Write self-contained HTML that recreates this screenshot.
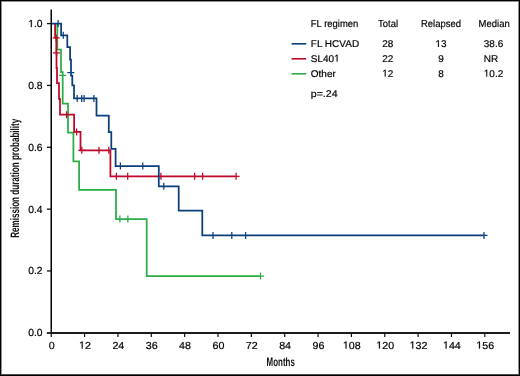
<!DOCTYPE html>
<html><head><meta charset="utf-8"><style>
html,body{margin:0;padding:0;background:#fff;}
#w{position:relative;width:520px;height:376px;overflow:hidden;}
svg{position:absolute;left:0;top:0;will-change:transform;}
text{text-rendering:geometricPrecision;}
.tk{font-family:"Liberation Sans",sans-serif;font-size:10.3px;fill:#000;stroke:#000;stroke-width:0.2px;}
.tk.tx{font-size:10.2px;}
.h1{fill:none;stroke:none;}
.lg.hd{font-size:10.2px;}
.lg{font-family:"Liberation Sans",sans-serif;font-size:9.8px;fill:#000;stroke:#000;stroke-width:0.18px;}
.ttl{font-family:"Liberation Sans",sans-serif;font-size:12.2px;font-weight:bold;fill:#111;}
#bd{position:absolute;left:0;top:0;width:520px;height:376px;box-sizing:border-box;border:1px solid #000;}
#bd2{position:absolute;left:1px;top:1px;width:518px;height:374px;box-sizing:border-box;border:1px solid rgba(0,0,0,0.45);border-bottom-color:rgba(0,0,0,0.7);}
</style></head><body><div id="w">
<svg width="520" height="376" viewBox="0 0 520 376">
<rect x="0" y="0" width="520" height="376" fill="#fff"/>
<path d="M57.3,23.6 V49.7 H61 V72.1 H62.7 V103.6 H68 V132.6 H73.4 V161.3 H79.1 V189.9 H116 V219 H146.7 V276.1 H260.5" fill="none" stroke="#2aad45" stroke-width="1.75" stroke-linejoin="miter" stroke-linecap="butt"/>
<path d="M59.20,75.4 H66.20 M119.9,215.50 V222.50 M127.9,215.50 V222.50 M260.5,272.60 V279.60 M260.5,276.1 H264.00" fill="none" stroke="#2aad45" stroke-width="1.25" stroke-linecap="butt"/>

<path d="M55.1,23.6 V37.7 H56.3 V52.6 H56.5 V68.2 H57 V83.2 H59 V98.8 H60 V114.7 H74.1 V131.9 H80.5 V150.3 H110.4 V176.35 H236.1" fill="none" stroke="#c0072a" stroke-width="1.75" stroke-linejoin="miter" stroke-linecap="butt"/>
<path d="M56.2,34.40 V41.40 M52.70,37.9 H59.70 M56.5,49.40 V56.40 M53.00,52.9 H60.00 M66.6,111.20 V118.20 M76.6,128.40 V135.40 M81.8,146.80 V153.80 M78.30,150.3 H85.30 M99,146.80 V153.80 M108.8,146.80 V153.80 M116.4,172.85 V179.85 M127.7,172.85 V179.85 M160.9,172.85 V179.85 M194.6,172.85 V179.85 M202.6,172.85 V179.85 M236.1,172.85 V179.85 M236.1,176.35 H239.60" fill="none" stroke="#c0072a" stroke-width="1.25" stroke-linecap="butt"/>

<path d="M51.25,23.6 H61.1 V35.3 H67.3 V47.1 H70.1 V59.7 H71 V75.7 H72.3 V85.4 H74 V98.4 H96.5 V115.6 H108.8 V132.1 H111.3 V148.9 H115.6 V166 H158.8 V186.3 H178.7 V210.5 H202.3 V235.4 H484" fill="none" stroke="#0b3f7c" stroke-width="1.75" stroke-linejoin="miter" stroke-linecap="butt"/>
<path d="M58.1,20.10 V27.10 M63.3,31.80 V38.80 M67.30,72.6 H74.30 M77.2,94.90 V101.90 M81.7,94.90 V101.90 M84.1,94.90 V101.90 M93.9,94.90 V101.90 M120.4,162.50 V169.50 M142.8,162.50 V169.50 M163.8,182.80 V189.80 M213,231.90 V238.90 M231.8,231.90 V238.90 M245.6,231.90 V238.90 M484,231.90 V238.90 M484,235.4 H487.50" fill="none" stroke="#0b3f7c" stroke-width="1.25" stroke-linecap="butt"/>

<line x1="51.25" y1="9.5" x2="51.25" y2="333.8" stroke="#000" stroke-width="1.5"/>
<line x1="50.5" y1="333.0" x2="510" y2="333.0" stroke="#1c1c1c" stroke-width="1.8"/>
<line x1="46.9" y1="23.60" x2="51.25" y2="23.60" stroke="#111" stroke-width="1.3"/>
<g transform="translate(42.60,27.10) scale(1.0,1)"><text id="t1" text-anchor="end" class="tk"><tspan class="h1">1</tspan>.0</text><path d="M-11.738,0.000 L-11.738,-6.221 L-13.337,-5.080 L-13.337,-5.935 L-11.663,-7.086 L-10.828,-7.086 L-10.828,0.000 Z" class="tk p1"/></g>
<line x1="46.9" y1="85.44" x2="51.25" y2="85.44" stroke="#111" stroke-width="1.3"/>
<g transform="translate(42.60,88.94) scale(1.0,1)"><text id="t2" text-anchor="end" class="tk">0.8</text></g>
<line x1="46.9" y1="147.28" x2="51.25" y2="147.28" stroke="#111" stroke-width="1.3"/>
<g transform="translate(42.60,150.78) scale(1.0,1)"><text id="t3" text-anchor="end" class="tk">0.6</text></g>
<line x1="46.9" y1="209.12" x2="51.25" y2="209.12" stroke="#111" stroke-width="1.3"/>
<g transform="translate(42.60,212.62) scale(1.0,1)"><text id="t4" text-anchor="end" class="tk">0.4</text></g>
<line x1="46.9" y1="270.96" x2="51.25" y2="270.96" stroke="#111" stroke-width="1.3"/>
<g transform="translate(42.60,274.46) scale(1.0,1)"><text id="t5" text-anchor="end" class="tk">0.2</text></g>
<line x1="46.8" y1="333.0" x2="51.25" y2="333.0" stroke="#1c1c1c" stroke-width="1.8"/>
<g transform="translate(42.60,336.30) scale(1.0,1)"><text id="t6" text-anchor="end" class="tk">0.0</text></g>
<line x1="51.25" y1="333" x2="51.25" y2="337" stroke="#111" stroke-width="1.2"/>
<g transform="translate(51.65,348.60) scale(1.05,1)"><text id="t7" text-anchor="middle" class="tk tx">0</text></g>
<line x1="84.60" y1="333" x2="84.60" y2="337" stroke="#111" stroke-width="1.2"/>
<g transform="translate(85.00,348.60) scale(1.05,1)"><text id="t8" text-anchor="middle" class="tk tx"><tspan class="h1">1</tspan>2</text><path d="M-3.107,0.000 L-3.107,-6.161 L-4.691,-5.030 L-4.691,-5.877 L-3.032,-7.017 L-2.205,-7.017 L-2.205,0.000 Z" class="tk tx p1"/></g>
<line x1="117.95" y1="333" x2="117.95" y2="337" stroke="#111" stroke-width="1.2"/>
<g transform="translate(118.35,348.60) scale(1.05,1)"><text id="t9" text-anchor="middle" class="tk tx">24</text></g>
<line x1="151.30" y1="333" x2="151.30" y2="337" stroke="#111" stroke-width="1.2"/>
<g transform="translate(151.70,348.60) scale(1.05,1)"><text id="t10" text-anchor="middle" class="tk tx">36</text></g>
<line x1="184.65" y1="333" x2="184.65" y2="337" stroke="#111" stroke-width="1.2"/>
<g transform="translate(185.05,348.60) scale(1.05,1)"><text id="t11" text-anchor="middle" class="tk tx">48</text></g>
<line x1="218.00" y1="333" x2="218.00" y2="337" stroke="#111" stroke-width="1.2"/>
<g transform="translate(218.40,348.60) scale(1.05,1)"><text id="t12" text-anchor="middle" class="tk tx">60</text></g>
<line x1="251.35" y1="333" x2="251.35" y2="337" stroke="#111" stroke-width="1.2"/>
<g transform="translate(251.75,348.60) scale(1.05,1)"><text id="t13" text-anchor="middle" class="tk tx">72</text></g>
<line x1="284.70" y1="333" x2="284.70" y2="337" stroke="#111" stroke-width="1.2"/>
<g transform="translate(285.10,348.60) scale(1.05,1)"><text id="t14" text-anchor="middle" class="tk tx">84</text></g>
<line x1="318.05" y1="333" x2="318.05" y2="337" stroke="#111" stroke-width="1.2"/>
<g transform="translate(318.45,348.60) scale(1.05,1)"><text id="t15" text-anchor="middle" class="tk tx">96</text></g>
<line x1="351.40" y1="333" x2="351.40" y2="337" stroke="#111" stroke-width="1.2"/>
<g transform="translate(351.80,348.60) scale(1.05,1)"><text id="t16" text-anchor="middle" class="tk tx"><tspan class="h1">1</tspan>08</text><path d="M-5.943,0.000 L-5.943,-6.161 L-7.527,-5.030 L-7.527,-5.877 L-5.868,-7.017 L-5.041,-7.017 L-5.041,0.000 Z" class="tk tx p1"/></g>
<line x1="384.75" y1="333" x2="384.75" y2="337" stroke="#111" stroke-width="1.2"/>
<g transform="translate(385.15,348.60) scale(1.05,1)"><text id="t17" text-anchor="middle" class="tk tx"><tspan class="h1">1</tspan>20</text><path d="M-5.943,0.000 L-5.943,-6.161 L-7.527,-5.030 L-7.527,-5.877 L-5.868,-7.017 L-5.041,-7.017 L-5.041,0.000 Z" class="tk tx p1"/></g>
<line x1="418.10" y1="333" x2="418.10" y2="337" stroke="#111" stroke-width="1.2"/>
<g transform="translate(418.50,348.60) scale(1.05,1)"><text id="t18" text-anchor="middle" class="tk tx"><tspan class="h1">1</tspan>32</text><path d="M-5.943,0.000 L-5.943,-6.161 L-7.527,-5.030 L-7.527,-5.877 L-5.868,-7.017 L-5.041,-7.017 L-5.041,0.000 Z" class="tk tx p1"/></g>
<line x1="451.45" y1="333" x2="451.45" y2="337" stroke="#111" stroke-width="1.2"/>
<g transform="translate(451.85,348.60) scale(1.05,1)"><text id="t19" text-anchor="middle" class="tk tx"><tspan class="h1">1</tspan>44</text><path d="M-5.943,0.000 L-5.943,-6.161 L-7.527,-5.030 L-7.527,-5.877 L-5.868,-7.017 L-5.041,-7.017 L-5.041,0.000 Z" class="tk tx p1"/></g>
<line x1="484.80" y1="333" x2="484.80" y2="337" stroke="#111" stroke-width="1.2"/>
<g transform="translate(485.20,348.60) scale(1.05,1)"><text id="t20" text-anchor="middle" class="tk tx"><tspan class="h1">1</tspan>56</text><path d="M-5.943,0.000 L-5.943,-6.161 L-7.527,-5.030 L-7.527,-5.877 L-5.868,-7.017 L-5.041,-7.017 L-5.041,0.000 Z" class="tk tx p1"/></g>
<g transform="translate(310.80,26.60) scale(0.93,1)"><text id="t21" class="lg hd">FL regimen</text></g>
<g transform="translate(378.00,26.60) scale(0.93,1)"><text id="t22" class="lg hd">Total</text></g>
<g transform="translate(421.00,26.60) scale(0.93,1)"><text id="t23" class="lg hd">Relapsed</text></g>
<g transform="translate(478.60,26.60) scale(0.93,1)"><text id="t24" class="lg hd">Median</text></g>
<line x1="291.6" y1="43.8" x2="306.2" y2="43.8" stroke="#0b3f7c" stroke-width="1.6"/>
<g transform="translate(310.80,47.00) scale(1.02,1)"><text id="t25" class="lg">FL HCVAD</text></g>
<g transform="translate(387.80,47.00) scale(1.02,1)"><text id="t26" text-anchor="middle" class="lg">28</text></g>
<g transform="translate(441.00,47.00) scale(1.02,1)"><text id="t27" text-anchor="middle" class="lg"><tspan class="h1">1</tspan>3</text><path d="M-2.989,0.000 L-2.989,-5.919 L-4.510,-4.833 L-4.510,-5.646 L-2.917,-6.742 L-2.123,-6.742 L-2.123,0.000 Z" class="lg p1"/></g>
<g transform="translate(483.80,47.00) scale(1.02,1)"><text id="t28" class="lg">38.6</text></g>
<line x1="291.6" y1="58.8" x2="306.2" y2="58.8" stroke="#c0072a" stroke-width="1.6"/>
<g transform="translate(310.80,61.55) scale(1.02,1)"><text id="t29" class="lg">SL40<tspan class="h1">1</tspan></text><path d="M25.355,0.000 L25.355,-5.919 L23.833,-4.833 L23.833,-5.646 L25.427,-6.742 L26.221,-6.742 L26.221,0.000 Z" class="lg p1"/></g>
<g transform="translate(387.80,61.55) scale(1.02,1)"><text id="t30" text-anchor="middle" class="lg">22</text></g>
<g transform="translate(441.00,61.55) scale(1.02,1)"><text id="t31" text-anchor="middle" class="lg">9</text></g>
<g transform="translate(483.80,61.55) scale(1.02,1)"><text id="t32" class="lg">NR</text></g>
<line x1="291.6" y1="73.8" x2="306.2" y2="73.8" stroke="#2aad45" stroke-width="1.6"/>
<g transform="translate(310.80,76.60) scale(1.02,1)"><text id="t33" class="lg">Other</text></g>
<g transform="translate(387.80,76.60) scale(1.02,1)"><text id="t34" text-anchor="middle" class="lg"><tspan class="h1">1</tspan>2</text><path d="M-2.989,0.000 L-2.989,-5.919 L-4.510,-4.833 L-4.510,-5.646 L-2.917,-6.742 L-2.123,-6.742 L-2.123,0.000 Z" class="lg p1"/></g>
<g transform="translate(441.00,76.60) scale(1.02,1)"><text id="t35" text-anchor="middle" class="lg">8</text></g>
<g transform="translate(483.80,76.60) scale(1.02,1)"><text id="t36" class="lg"><tspan class="h1">1</tspan>0.2</text><path d="M2.464,0.000 L2.464,-5.919 L0.943,-4.833 L0.943,-5.646 L2.536,-6.742 L3.330,-6.742 L3.330,0.000 Z" class="lg p1"/></g>
<g transform="translate(310.80,96.80) scale(1.08,1)"><text id="t37" class="lg">p=.24</text></g>
<text transform="translate(280.7,366.2) scale(0.65,1)" text-anchor="middle" class="ttl">Months</text>
<text transform="translate(19.3,178.3) rotate(-90) scale(0.664,1)" text-anchor="middle" class="ttl">Remission duration probability</text>
</svg>
<div id="bd"></div><div id="bd2"></div>
</div></body></html>
